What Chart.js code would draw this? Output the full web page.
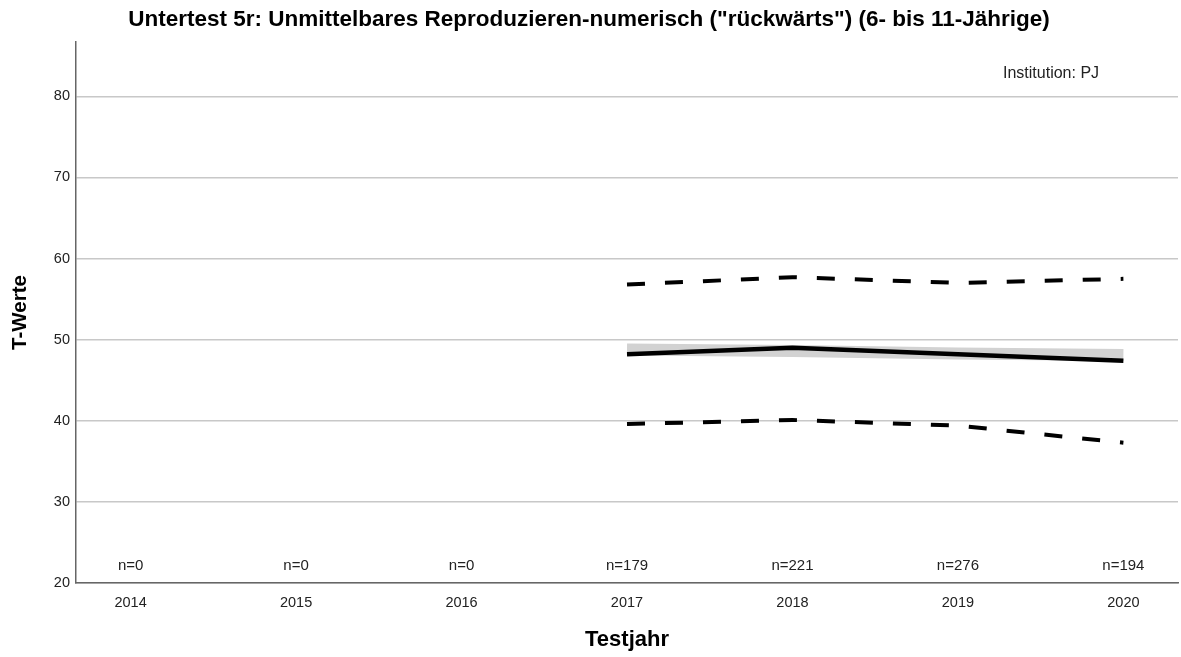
<!DOCTYPE html>
<html>
<head>
<meta charset="utf-8">
<script src="https://cdn.jsdelivr.net/npm/chart.js@4/dist/chart.umd.min.js"></script>
<style>
  html, body { margin: 0; padding: 0; background: #fff; }
  #wrap { width: 1181px; height: 657px; }
</style>
</head>
<body>
<div id="wrap"><canvas id="lineChartCanvas" width="1181" height="657"></canvas></div>
<script>
let years = [2014, 2015, 2016, 2017, 2018, 2019, 2020];
let nCounts = [0, 0, 0, 179, 221, 276, 194];
let meanVals = [null, null, null, 48.2, 49.0, 48.2, 47.4];
let upperVals = [null, null, null, 56.8, 57.7, 57.0, 57.5];
let lowerVals = [null, null, null, 39.6, 40.1, 39.4, 37.3];
let trendVals = [null, null, null, 48.8, 48.6, 48.3, 48.1];
let yTicks = [20, 30, 40, 50, 60, 70, 80];

let font = "'Liberation Sans', Arial, sans-serif";

function pts(vals) {
  return years.map((y, i) => ({ x: y, y: vals[i] })).filter(p => p.y !== null);
}

let labelsPlugin = {
  id: "labels",
  afterDatasetsDraw(chart) {
    let ctx = chart.ctx;
    let xs = chart.scales.x;
    ctx.save();
    ctx.fillStyle = "#222";
    ctx.font = "15px " + font;
    ctx.textAlign = "center";
    ctx.textBaseline = "middle";
    years.forEach((y, i) => {
      ctx.fillText("n=" + nCounts[i], xs.getPixelForValue(y), 566);
    });
    ctx.textAlign = "left";
    ctx.font = "16px " + font;
    ctx.fillText("Institution: PJ", 1003, 74);
    ctx.restore();
  },
};

let ctx_line = document.querySelector("#lineChartCanvas").getContext("2d");

new Chart(ctx_line, {
  type: "line",
  data: {
    datasets: [
      {
        data: pts(meanVals),
        borderColor: "#000",
        borderWidth: 4.5,
        order: 1,
      },
      {
        data: pts(upperVals),
        borderColor: "#000",
        borderWidth: 4,
        borderDash: [18, 20],
        order: 1,
      },
      {
        data: pts(lowerVals),
        borderColor: "#000",
        borderWidth: 4,
        borderDash: [18, 20],
        order: 1,
      },
      {
        data: pts(trendVals),
        borderColor: "#d2d2d2",
        borderWidth: 12,
        order: 5,
      },
    ],
  },
  options: {
    responsive: false,
    animation: false,
    events: [],
    layout: { padding: { left: 0, right: 3, top: 0, bottom: 0 } },
    elements: {
      point: { radius: 0 },
      line: { tension: 0, borderCapStyle: "butt" },
    },
    plugins: {
      legend: { display: false },
      tooltip: { enabled: false },
      title: {
        display: true,
        text: 'Untertest 5r: Unmittelbares Reproduzieren-numerisch ("rückwärts") (6- bis 11-Jährige)',
        color: "#000",
        font: { family: font, size: 22.5, weight: "bold" },
        padding: { top: 6.5, bottom: 8.5 },
      },
    },
    scales: {
      x: {
        type: "linear",
        min: 2013.67,
        max: 2020.33,
        afterBuildTicks: s => { s.ticks = years.map(v => ({ value: v })); },
        afterFit: s => { s.height = 74; },
        grid: { display: false, drawTicks: false },
        border: { display: true, color: "#666", width: 1.5 },
        ticks: {
          color: "#222",
          font: { family: font, size: 14.5 },
          padding: 11,
          callback: v => String(v),
        },
        title: {
          display: true,
          text: "Testjahr",
          color: "#000",
          font: { family: font, size: 22, weight: "bold" },
          padding: { top: 4, bottom: 4 },
        },
      },
      y: {
        min: 20,
        max: 86.7,
        afterBuildTicks: s => { s.ticks = yTicks.map(v => ({ value: v })); },
        afterFit: s => { s.width = 76; },
        grid: { color: "#c8c8c8", lineWidth: 1.5, drawTicks: false },
        border: { display: true, color: "#666", width: 1.5 },
        ticks: {
          color: "#222",
          font: { family: font, size: 14.5 },
          padding: 6,
        },
        title: {
          display: true,
          text: "T-Werte",
          color: "#000",
          font: { family: font, size: 20.5, weight: "bold" },
          padding: { top: 8, bottom: 4 },
        },
      },
    },
  },
  plugins: [labelsPlugin],
});
</script>
</body>
</html>
